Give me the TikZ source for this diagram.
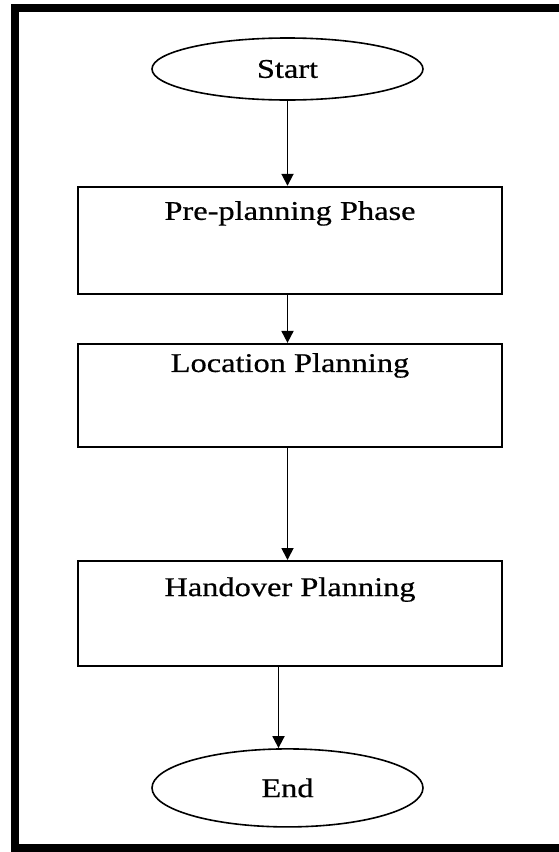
\documentclass[tikz,border=0pt]{standalone}
\usepackage{fontspec}
\setmainfont[FakeStretch=1.2,FakeBold=0.6]{Liberation Serif}
\usepackage{tikz}
\usetikzlibrary{arrows.meta,positioning,shapes.geometric}
\tikzset{
  terminal/.style={ellipse, draw=black, line width=1.6pt, fill=white,
                   minimum width=271pt, minimum height=62pt, inner sep=0pt},
  stagebox/.style={rectangle, draw=black, line width=2.1pt, fill=white,
                   minimum width=424pt, inner xsep=0pt, inner ysep=0pt, align=center},
  flow/.style={-{Triangle[length=12pt,width=12pt]}, draw=black, line width=1.8pt},
  frame/.style={draw=black, line width=8pt}
}

\begin{document}
\begin{tikzpicture}[x=1pt, y=-1pt, node distance=40pt,
  every node/.style={font=\fontsize{27}{32}\selectfont}]
 \useasboundingbox (0,0) rectangle (558,852);
 \fill[white] (0,0) rectangle (558,852);
 \draw[frame] (14.5,8) rectangle (600,848);
 \node[terminal] (start) at (287.5,69) {Start};
 \node[stagebox, below=85pt of start, xshift=2.5pt, text height=33pt, text depth=74pt] (pre) {Pre-planning Phase};
 \node[stagebox, below=48pt of pre, text height=28pt, text depth=75pt] (loc) {Location Planning};
 \node[stagebox, below=112pt of loc, text height=35pt, text depth=70pt] (hand) {Handover Planning};
 \node[terminal, minimum height=78pt, below=81pt of hand, xshift=-2.5pt] (end) {End};
 \draw[flow] (start.south) -- (start.south |- pre.north);
 \draw[flow] (pre.south -| start.south) -- (start.south |- loc.north);
 \draw[flow] (loc.south -| start.south) -- (start.south |- hand.north);
 \draw[flow] ([xshift=-9pt]hand.south -| start.south) -- ([xshift=-9pt]end.north);
\end{tikzpicture}
\end{document}
